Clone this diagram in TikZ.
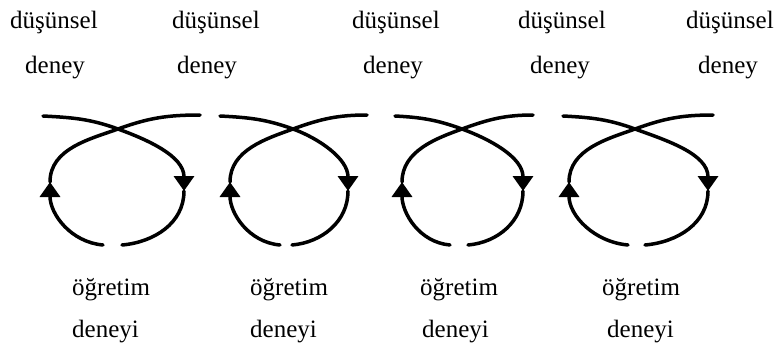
\documentclass[tikz,border=0pt]{standalone}
\usepackage{fontspec}
\setmainfont{Liberation Serif}
\usetikzlibrary{arrows.meta}
\begin{document}
\begin{tikzpicture}[x=1bp,y=1bp,
  lbl/.style={anchor=base west,inner sep=0pt,font=\fontsize{25bp}{30bp}\selectfont},
  loopline/.style={line width=3.5bp,line cap=round},
  tip/.style={-{Triangle[width=20bp,length=15bp]}}]
\useasboundingbox (0,0) rectangle (774,342);
% top labels
\node[lbl] (ta1) at (10,314) {düşünsel};
\node[lbl] (tb1) at (25,269) {deney};
\node[lbl] (ta2) at (172,314) {düşünsel};
\node[lbl] (tb2) at (177,269) {deney};
\node[lbl] (ta3) at (352,314) {düşünsel};
\node[lbl] (tb3) at (363,269) {deney};
\node[lbl] (ta4) at (518,314) {düşünsel};
\node[lbl] (tb4) at (530,269) {deney};
\node[lbl] (ta5) at (686,314) {düşünsel};
\node[lbl] (tb5) at (698,269) {deney};
% bottom labels
\node[lbl] (ba1) at (72,47) {öğretim};
\node[lbl] (bb1) at (72,5) {deneyi};
\node[lbl] (ba2) at (250,47) {öğretim};
\node[lbl] (bb2) at (250,5) {deneyi};
\node[lbl] (ba3) at (420,47) {öğretim};
\node[lbl] (bb3) at (422,5) {deneyi};
\node[lbl] (ba4) at (602,47) {öğretim};
\node[lbl] (bb4) at (607,5) {deneyi};
% loops
\foreach \n/\L/\R/\c/\xl/\xr/\gl/\gr in
  {1/43/200/118/50/184/103/122,
   2/220/367/293/230/348/280/292,
   3/395/533/462/402/523/450/468,
   4/563/713/635/569/708/628/645}{
  \coordinate (lt\n) at (\L,226);
  \coordinate (rt\n) at (\R,227);
  \coordinate (x\n) at (\c,213);
  \coordinate (rs\n) at (\xr,151);
  \coordinate (ls\n) at (\xl,160);
  \coordinate (rb\n) at (\gr,97);
  \coordinate (lb\n) at (\gl,97);
  \draw[loopline,tip] (lt\n) to[out=-3,in=160] (x\n) to[out=-20,in=90,out looseness=0.85] (rs\n);
  \draw[loopline] (rs\n) to[out=-90,in=5] (rb\n);
  \draw[loopline,tip] (lb\n) to[out=175,in=-90] (ls\n);
  \draw[loopline] (ls\n) to[out=90,in=200,in looseness=0.85] (x\n) to[out=20,in=180] (rt\n);
}
\end{tikzpicture}
\end{document}
